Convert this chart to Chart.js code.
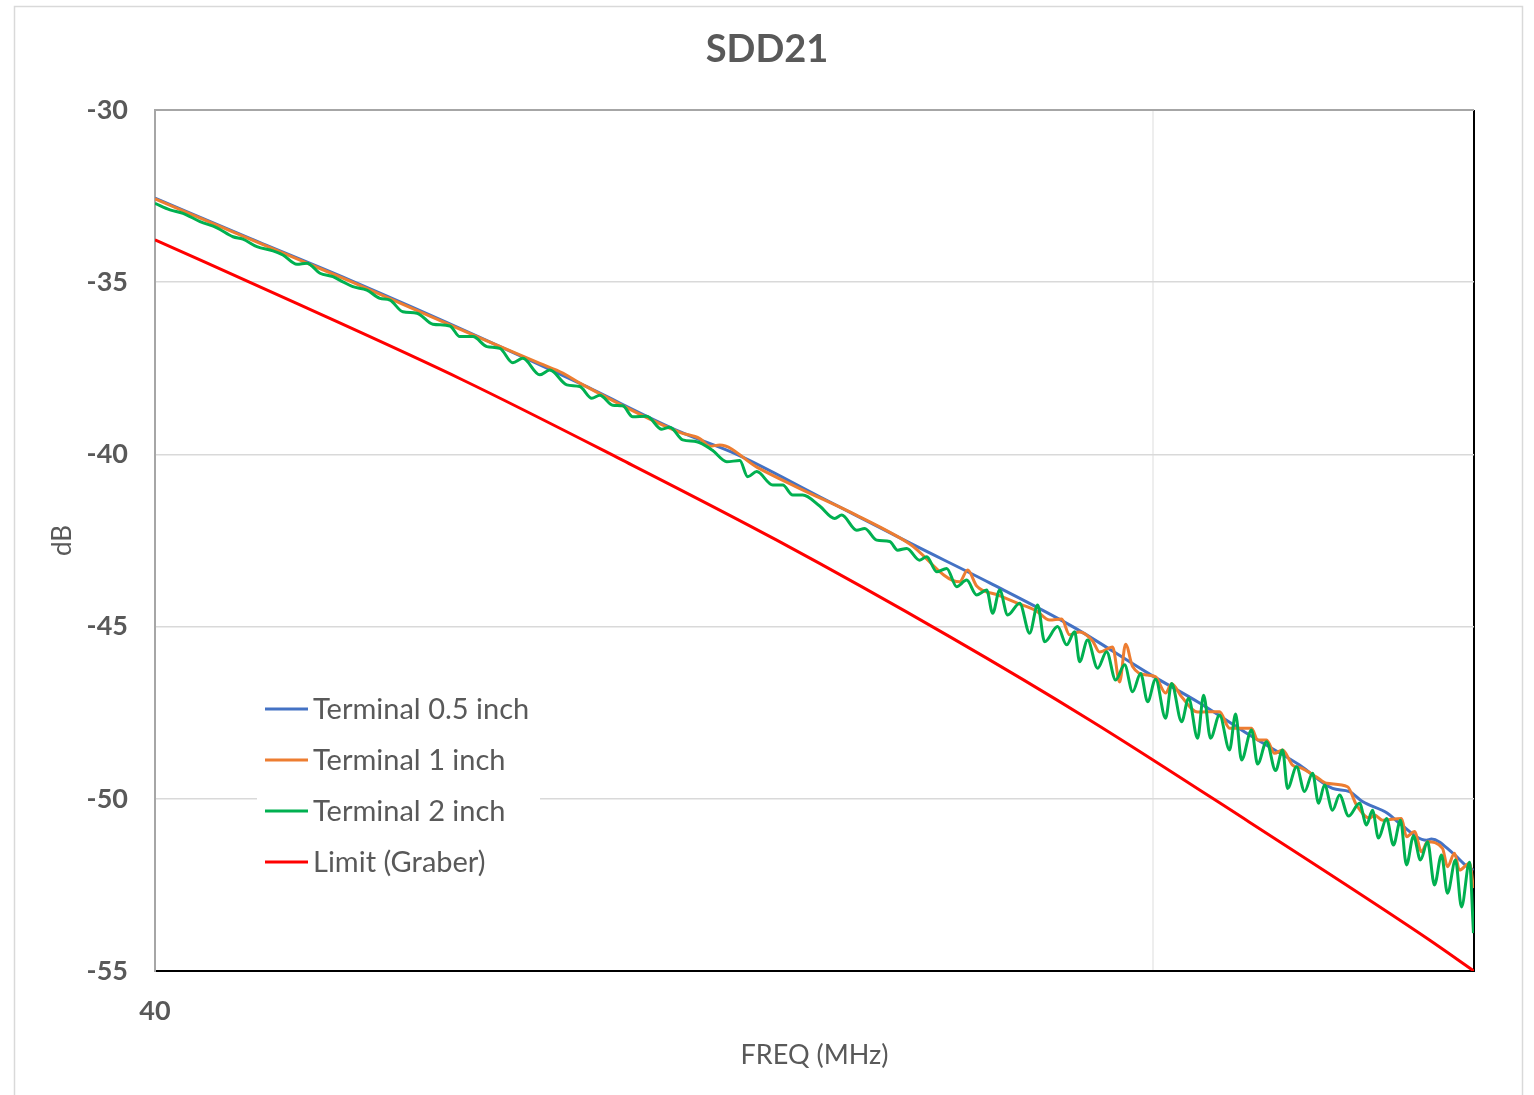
<!DOCTYPE html>
<html>
<head>
<meta charset="utf-8">
<title>SDD21</title>
<script src="https://cdn.jsdelivr.net/npm/chart.js@4.4.1/dist/chart.umd.min.js"></script>
<style>
  html, body { margin: 0; padding: 0; background: #fff; }
  canvas { display: block; }
</style>
</head>
<body>
<canvas id="sddChart" width="1534" height="1095"></canvas>
<script>
// x axis is log frequency in MHz
const chartTitle = 'SDD21';
const xTicks = [40, 400, 840];
const xLabels = ['40', '', ''];
const yTicks = [-30, -35, -40, -45, -50, -55];

const seriesNames = ['Terminal 0.5 inch', 'Terminal 1 inch', 'Terminal 2 inch', 'Limit (Graber)'];

// Terminal 0.5 inch
const freq05 = [40, 49.8, 62.73, 84.66, 106.64, 134.31, 153.19, 185.52, 228.35, 274.63, 332.6, 397.26,
  445.86, 500.3, 561.57, 606.02, 630.24, 649.38, 687.9, 707.24, 752.76, 761.49, 799.29, 825.55, 839];
const db05 = [-32.56, -33.73, -34.94, -36.6, -37.94, -39.34, -40.0, -41.23, -42.57, -43.73, -45.0, -46.38,
  -47.22, -48.15, -49.02, -49.7, -49.79, -50.08, -50.42, -50.71, -51.2, -51.17, -51.57, -51.95, -52.07];

// Terminal 1 inch
const freq1 = [40, 49.8, 55.89, 62.73, 84.66, 97.23, 102.54, 106.64, 134.31, 140.65, 143.94, 147.3,
  160.43, 175.94, 202.06, 228.35, 256.27, 261.04, 266.52, 279.75, 292.29, 306.09, 315.41, 324.26, 330.31,
  338.01, 348.31, 353.98, 364.76, 370.7, 375.87, 381.98, 395.45, 402.83, 412.22, 417.98, 427.73, 443.82,
  466.88, 477.78, 502.66, 509.72, 520.41, 530.1, 539.98, 552.58, 564.17, 584.05, 597.68, 627.35, 640.45,
  659.94, 667.6, 680.04, 710.52, 718.81, 732.2, 744.12, 754.49, 781.06, 790.13, 803.0, 812.31, 831.27, 839];
const db1 = [-32.58, -33.75, -34.36, -34.97, -36.62, -37.36, -37.64, -37.93, -39.36, -39.54, -39.76, -39.73,
  -40.37, -40.95, -41.77, -42.6, -43.7, -43.36, -43.82, -44.08, -44.31, -44.55, -44.81, -44.78, -45.24,
  -45.16, -45.42, -45.74, -45.59, -46.61, -45.51, -46.16, -46.41, -46.46, -46.93, -46.66, -47.04, -47.48,
  -47.47, -47.95, -47.95, -48.29, -48.29, -48.68, -48.58, -49.02, -49.11, -49.37, -49.55, -49.65, -50.18,
  -50.56, -50.47, -50.62, -50.57, -51.1, -50.95, -51.54, -51.25, -51.44, -51.97, -51.58, -52.07, -51.87, -52.59];

// Terminal 2 inch
const freq2 = [40, 41.41, 42.67, 44.38, 46.15, 47.89, 49.0, 50.61, 52.52, 53.74, 55.51, 56.8, 58.53, 60.31,
  61.72, 63.16, 65.23, 67.22, 68.79, 70.88, 73.21, 75.96, 79.0, 80.85, 83.31, 86.04, 88.66, 91.36, 93.49,
  97.23, 99.5, 103.49, 106.64, 109.63, 111.67, 115.07, 117.76, 120.51, 124.46, 128.84, 131.24, 135.24,
  139.68, 144.94, 149.7, 154.26, 157.13, 160.43, 166.46, 170.35, 174.32, 178.39, 185.52, 192.05, 195.18,
  202.06, 205.83, 211.6, 218.04, 222.11, 226.78, 233.68, 237.49, 243.03, 248.7, 254.5, 260.44, 266.52,
  272.74, 276.55, 281.04, 286.29, 294.32, 301.19, 306.79, 311.79, 321.29, 328.03, 334.14, 338.01, 344.3,
  352.35, 359.75, 367.29, 375.0, 381.98, 389.1, 395.45, 402.83, 412.22, 417.98, 427.73, 434.7, 443.82,
  450.0, 457.29, 466.88, 477.78, 484.44, 491.19, 502.66, 509.72, 520.41, 531.33, 539.98, 546.23, 557.71,
  568.1, 578.69, 586.75, 594.93, 606.02, 615.87, 628.8, 644.9, 655.4, 664.53, 673.79, 686.36, 697.52,
  708.88, 718.81, 730.53, 742.41, 754.49, 766.77, 779.26, 790.13, 804.85, 816.07, 831.27, 839];
const db2 = [-32.71, -32.9, -33.0, -33.24, -33.42, -33.68, -33.75, -33.97, -34.09, -34.21, -34.48, -34.45, -34.74, -34.84,
  -34.99, -35.13, -35.23, -35.47, -35.52, -35.86, -35.9, -36.22, -36.27, -36.58, -36.58, -36.87, -36.92, -37.34, -37.21,
  -37.69, -37.55, -37.98, -38.03, -38.37, -38.28, -38.57, -38.59, -38.91, -38.89, -39.27, -39.21, -39.58,
  -39.63, -39.89, -40.21, -40.18, -40.65, -40.5, -40.89, -40.89, -41.18, -41.18, -41.5, -41.86, -41.76,
  -42.2, -42.15, -42.49, -42.53, -42.78, -42.73, -43.07, -42.97, -43.41, -43.31, -43.84, -43.65, -44.08,
  -43.94, -44.61, -43.94, -44.66, -44.32, -45.19, -44.37, -45.44, -45.0, -45.53, -45.15, -46.02, -45.39,
  -46.21, -45.73, -46.55, -46.11, -46.89, -46.36, -47.18, -46.53, -47.66, -46.65, -47.76, -47.08, -48.24,
  -46.99, -48.24, -47.57, -48.58, -47.54, -48.87, -48.0, -48.99, -48.34, -49.18, -48.58, -49.7, -49.07,
  -49.79, -49.26, -50.13, -49.6, -50.33, -49.89, -50.5, -50.13, -50.76, -50.33, -51.14, -50.57, -51.34,
  -50.62, -51.92, -51.08, -51.78, -51.25, -52.5, -51.63, -52.74, -51.78, -53.14, -51.84, -53.9];

// Limit (Graber)
const freqLimit = [40, 55.9, 81.4, 117.0, 168.0, 250.4, 345.9, 500.3, 752.8, 840];
const dbLimit = [-33.77, -35.66, -37.84, -40.13, -42.49, -45.29, -47.71, -50.68, -54.04, -55.0];

const colors = ['#4472C4', '#ED7D31', '#00B050', '#FF0000'];
const textGrey = '#595959';

function pairUp(xs, ys) {
  return xs.map((x, i) => ({ x: x, y: ys[i] }));
}

// white page, thin outer frame and the title centred on the whole picture
const frame = {
  id: 'frame',
  beforeDraw(chart) {
    const ctx = chart.ctx;
    ctx.save();
    ctx.fillStyle = '#fff';
    ctx.fillRect(0, 0, chart.width, chart.height);
    ctx.strokeStyle = '#d9d9d9';
    ctx.lineWidth = 1.5;
    ctx.strokeRect(14.5, 6.5, 1508, 1100);
    ctx.fillStyle = textGrey;
    ctx.font = 'bold 38px Lato';
    ctx.textAlign = 'center';
    ctx.textBaseline = 'middle';
    ctx.fillText(chartTitle, chart.width / 2, 50);
    ctx.restore();
  }
};

// legend sits inside the plot, lower left, on a white box
const insideLegend = {
  id: 'insideLegend',
  afterDraw(chart) {
    const ctx = chart.ctx;
    ctx.save();
    ctx.fillStyle = '#fff';
    ctx.fillRect(257, 684, 283, 203);
    ctx.font = '29px Lato';
    ctx.textBaseline = 'middle';
    chart.data.datasets.forEach((ds, i) => {
      const y = 709 + i * 51;
      ctx.strokeStyle = ds.borderColor;
      ctx.lineWidth = 3;
      ctx.beginPath();
      ctx.moveTo(265, y);
      ctx.lineTo(308, y);
      ctx.stroke();
      ctx.fillStyle = textGrey;
      ctx.fillText(ds.label, 313, y + 1);
    });
    ctx.restore();
  }
};

const lineStyle = { borderWidth: 3, pointRadius: 0, fill: false, cubicInterpolationMode: 'monotone' };

new Chart(document.getElementById('sddChart'), {
  type: 'line',
  data: {
    datasets: [
      Object.assign({ label: seriesNames[0], data: pairUp(freq05, db05), borderColor: colors[0], order: 4 }, lineStyle),
      Object.assign({ label: seriesNames[1], data: pairUp(freq1, db1), borderColor: colors[1], order: 3 }, lineStyle),
      Object.assign({ label: seriesNames[2], data: pairUp(freq2, db2), borderColor: colors[2], order: 2 }, lineStyle),
      Object.assign({ label: seriesNames[3], data: pairUp(freqLimit, dbLimit), borderColor: colors[3], order: 1 }, lineStyle)
    ]
  },
  options: {
    responsive: false,
    animation: false,
    layout: { padding: { left: 0, right: 60, top: 110, bottom: 0 } },
    plugins: {
      legend: { display: false },
      tooltip: { enabled: false },
      title: { display: false }
    },
    scales: {
      x: {
        type: 'logarithmic',
        min: 40,
        max: 840,
        afterBuildTicks: (scale) => { scale.ticks = xTicks.map(v => ({ value: v })); },
        afterFit: (scale) => { scale.height = 124; },
        ticks: {
          autoSkip: false,
          maxRotation: 0,
          padding: 24,
          color: textGrey,
          font: { family: 'Lato', size: 27, weight: 'bold' },
          callback: (value) => { const i = xTicks.indexOf(value); return i >= 0 ? xLabels[i] : ''; }
        },
        grid: {
          drawTicks: false,
          color: (c) => c.tick && c.tick.value === 840 ? '#000' : (c.tick && c.tick.value === 40 ? 'rgba(0,0,0,0)' : '#eeeeee'),
          lineWidth: 2
        },
        border: { color: '#000', width: 2 },
        title: {
          display: true,
          text: 'FREQ (MHz)',
          color: textGrey,
          font: { family: 'Lato', size: 27 },
          padding: { top: 0, bottom: 24 }
        }
      },
      y: {
        type: 'linear',
        min: -55,
        max: -30,
        afterBuildTicks: (scale) => { scale.ticks = yTicks.map(v => ({ value: v })); },
        afterFit: (scale) => { scale.width = 155; },
        ticks: {
          padding: 27,
          color: textGrey,
          font: { family: 'Lato', size: 27, weight: 'bold' }
        },
        grid: {
          drawTicks: false,
          color: (c) => c.tick && c.tick.value === -30 ? '#a6a6a6' : '#d9d9d9',
          lineWidth: (c) => c.tick && c.tick.value === -30 ? 2 : 1.5
        },
        border: { color: '#a6a6a6', width: 2 },
        title: {
          display: true,
          text: 'dB',
          color: textGrey,
          font: { family: 'Lato', size: 26 },
          padding: { top: 47, bottom: 0 }
        }
      }
    }
  },
  plugins: [frame, insideLegend]
});
</script>
</body>
</html>
